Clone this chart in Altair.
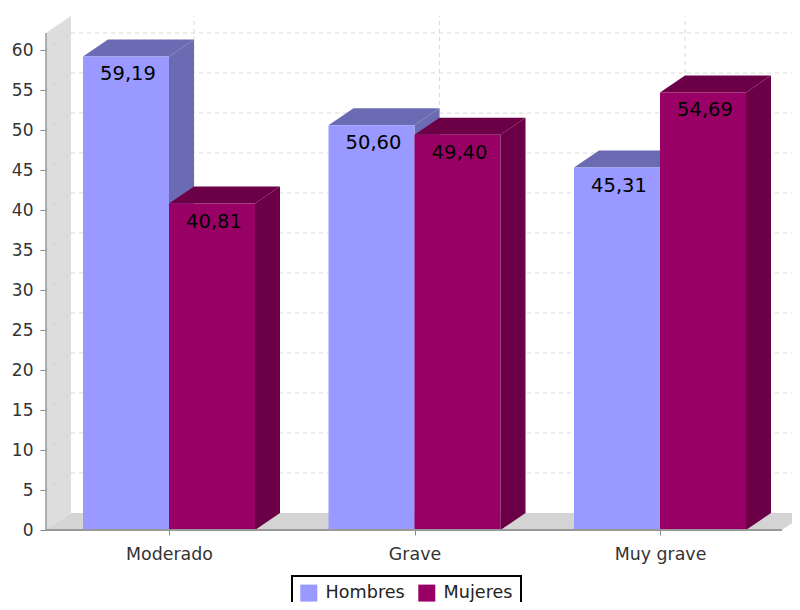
import altair as alt
import pandas as pd

categories = ["Moderado", "Grave", "Muy grave"]
series = ["Hombres", "Mujeres"]
hombres = [59.19, 50.60, 45.31]
mujeres = [40.81, 49.40, 54.69]
hombres_labels = ["59,19", "50,60", "45,31"]
mujeres_labels = ["40,81", "49,40", "54,69"]
y_ticks = list(range(0, 65, 5))

front_colors = ["#9999FF", "#990066"]
dark_colors = ["#6B6BB3", "#6B0047"]

# layout (x scale is in pixel-like units)
X_MAX, Y_MAX = 746, 65
PX_PER_UNIT = 8
DX = 25
DY = 17 / PX_PER_UNIT
WALL_TOP = 62.125
FIRST_CENTER, STEP, BAR_W = 123, 245.5, 86
AXIS_END = 736
centers = [FIRST_CENTER + i * STEP for i in range(3)]

x_scale = alt.Scale(domain=[0, X_MAX], nice=False, zero=False)
y_scale = alt.Scale(domain=[0, Y_MAX], nice=False, zero=False)
X = alt.X("x:Q", scale=x_scale, title=None,
          axis=alt.Axis(values=centers, grid=False, domain=False, tickColor="#888888",
                        tickSize=5, labelFontSize=17.4, labelColor="#333333", labelPadding=10,
                        labelFont="DejaVu Sans",
                        labelExpr="datum.value < 200 ? 'Moderado' : datum.value < 500 ? 'Grave' : 'Muy grave'"))
Y = alt.Y("y:Q", scale=y_scale, title=None, stack=None,
          axis=alt.Axis(values=y_ticks, grid=False, domain=False, tickColor="#888888", tickSize=6,
                        labelFontSize=17, labelColor="#333333", labelPadding=7,
                        labelFont="DejaVu Sans"))

# back wall and floor
wall = pd.DataFrame({"x": [0, DX], "y": [0, DY], "y2": [WALL_TOP, WALL_TOP + DY]})
floor = pd.DataFrame({"x": [0, DX, AXIS_END, X_MAX],
                      "y": [0, 0, 0, (X_MAX - AXIS_END) / DX * DY],
                      "y2": [0, DY, DY, DY]})
layers = [
    alt.Chart(wall).mark_area(color="#DDDDDD").encode(x=X, y=Y, y2="y2:Q"),
    alt.Chart(floor).mark_area(color="#D4D4D4").encode(x=X, y=Y, y2="y2:Q"),
]

# grid
h_grid = pd.DataFrame({"x": [DX] * len(y_ticks), "x2": [X_MAX] * len(y_ticks),
                       "y": [v + DY for v in y_ticks]})
layers.append(alt.Chart(h_grid[h_grid.y > DY]).mark_rule(color="#D8D8D8", strokeDash=[4, 4], strokeWidth=1)
              .encode(x=X, x2="x2:Q", y=Y))
diag = pd.DataFrame([{"t": v, "x": x, "y": v + d} for v in y_ticks[1:] for x, d in ((0, 0), (DX, DY))])
layers.append(alt.Chart(diag).mark_line(color="#CFCFCF", strokeDash=[4, 4], strokeWidth=1)
              .encode(x=X, y=Y, detail="t:N"))
v_grid = pd.DataFrame({"x": [c + DX for c in centers], "y": [DY] * 3, "y2": [WALL_TOP + DY] * 3})
layers.append(alt.Chart(v_grid).mark_rule(color="#D8D8D8", strokeDash=[4, 4], strokeWidth=1)
              .encode(x=X, y=Y, y2="y2:Q"))

# axis lines
y_line = pd.DataFrame({"x": [0], "y": [0], "y2": [WALL_TOP]})
x_line = pd.DataFrame({"x": [0], "x2": [AXIS_END], "y": [0]})
layers.append(alt.Chart(y_line).mark_rule(color="#999999", strokeWidth=1.5).encode(x=X, y=Y, y2="y2:Q"))

# bars
color = alt.Color("series:N", scale=alt.Scale(domain=series, range=front_colors),
                  legend=alt.Legend(orient="none", legendX=246, legendY=566, direction="horizontal",
                                    title=None, symbolType="square", symbolSize=289, symbolStrokeWidth=0,
                                    symbolOpacity=1, labelFontSize=17.6, labelColor="#222222",
                                    labelFont="DejaVu Sans", padding=8, fillColor="white",
                                    strokeColor="black", columnPadding=13, labelOffset=8))
for s, (name, vals, dark) in enumerate(zip(series, (hombres, mujeres), dark_colors)):
    side_rows, top_rows, front_rows = [], [], []
    for c, v, cat in zip(centers, vals, categories):
        x0 = c - BAR_W + s * BAR_W
        x1 = x0 + BAR_W
        side_rows += [{"cat": cat, "x": x1, "y": 0, "y2": v},
                      {"cat": cat, "x": x1 + DX, "y": DY, "y2": v + DY}]
        top_rows += [{"cat": cat, "x": x0, "y": v, "y2": v},
                     {"cat": cat, "x": x0 + DX, "y": v, "y2": v + DY},
                     {"cat": cat, "x": x1, "y": v, "y2": v + DY},
                     {"cat": cat, "x": x1 + DX, "y": v + DY, "y2": v + DY}]
        front_rows.append({"series": name, "x": x0, "x2": x1, "y": v, "y0": 0})
    layers.append(alt.Chart(pd.DataFrame(side_rows)).mark_area(color=dark)
                  .encode(x=X, y=Y, y2="y2:Q", detail="cat:N"))
    layers.append(alt.Chart(pd.DataFrame(top_rows)).mark_area(color=dark)
                  .encode(x=X, y=Y, y2="y2:Q", detail="cat:N"))
    layers.append(alt.Chart(pd.DataFrame(front_rows)).mark_rect()
                  .encode(x=X, x2="x2:Q", y=Y, y2="y0:Q", color=color))

layers.append(alt.Chart(x_line).mark_rule(color="#999999", strokeWidth=2).encode(x=X, x2="x2:Q", y=Y))

# value labels
label_rows = []
for s, (vals, labs) in enumerate(zip((hombres, mujeres), (hombres_labels, mujeres_labels))):
    for c, v, t in zip(centers, vals, labs):
        label_rows.append({"x": c - BAR_W / 2 + s * BAR_W, "y": v, "t": t})
layers.append(alt.Chart(pd.DataFrame(label_rows))
              .mark_text(baseline="middle", align="center", dx=2, dy=18, fontSize=19.5,
                         font="DejaVu Sans", color="#000000")
              .encode(x=X, y=Y, text="t:N"))

chart = (alt.layer(*layers)
         .properties(width=X_MAX, height=520, background="white",
                     autosize=alt.AutoSizeParams(type="none"),
                     padding={"left": 38, "top": 2, "right": 0, "bottom": 72})
         .configure_view(strokeWidth=0, stroke="transparent")
         .configure_legend(strokeWidth=2))
chart.save("out.html", embed_options={"renderer": "svg", "actions": False})
